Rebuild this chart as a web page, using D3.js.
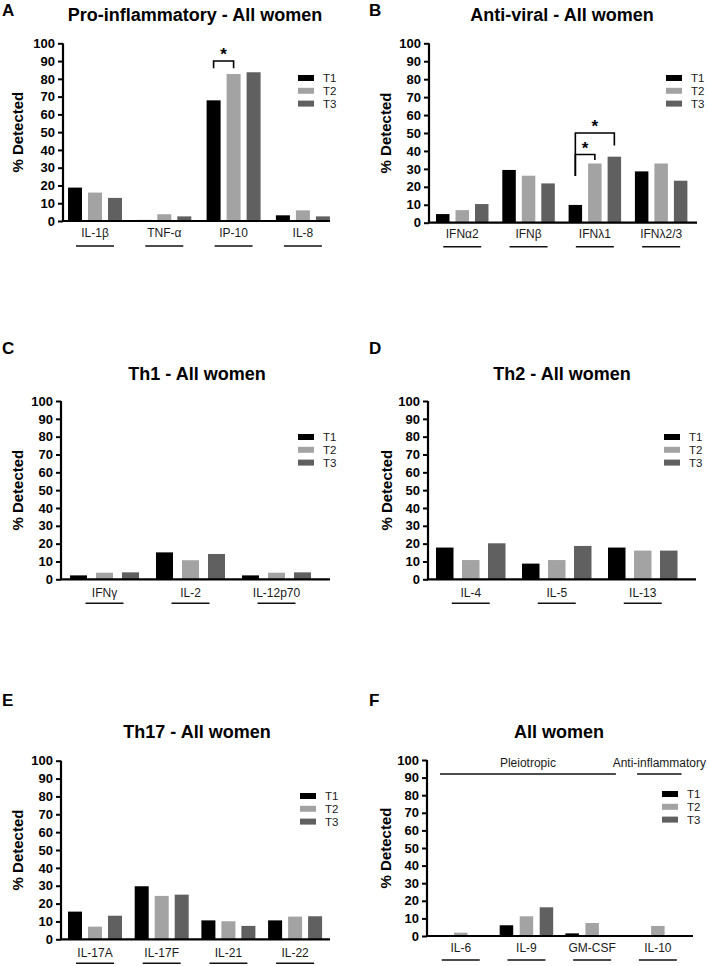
<!DOCTYPE html>
<html>
<head>
<meta charset="utf-8">
<script src="https://cdn.jsdelivr.net/npm/d3@7"></script>
<style>
  html, body { margin: 0; padding: 0; background: #fff; }
  svg text { font-family: "Liberation Sans", Arial, Helvetica, sans-serif; }
</style>
</head>
<body>
<svg id="chart" width="708" height="966"></svg>
<script>
// ---------------- DATA ----------------
const seriesNames = ["T1", "T2", "T3"];
const yTickValues = [0, 10, 20, 30, 40, 50, 60, 70, 80, 90, 100];
const yAxisTitle = "% Detected";

// A: Pro-inflammatory
const catsA = ["IL-1β", "TNF-α", "IP-10", "IL-8"];
const t1A = [18.8, 0.6, 67.9, 3.2];
const t2A = [16.0, 3.8, 82.7, 6.0];
const t3A = [13.0, 2.6, 83.7, 2.6];

// B: Anti-viral
const catsB = ["IFNα2", "IFNβ", "IFNλ1", "IFNλ2/3"];
const t1B = [4.8, 29.4, 9.9, 28.6];
const t2B = [7.0, 26.2, 33.0, 33.0];
const t3B = [10.4, 21.9, 36.8, 23.4];

// C: Th1
const catsC = ["IFNγ", "IL-2", "IL-12p70"];
const t1C = [2.2, 15.1, 2.2];
const t2C = [3.7, 10.7, 3.7];
const t3C = [3.9, 14.2, 3.9];

// D: Th2
const catsD = ["IL-4", "IL-5", "IL-13"];
const t1D = [17.8, 8.8, 17.8];
const t2D = [10.8, 10.8, 16.1];
const t3D = [20.2, 18.7, 16.1];

// E: Th17
const catsE = ["IL-17A", "IL-17F", "IL-21", "IL-22"];
const t1E = [15.5, 29.7, 10.6, 10.6];
const t2E = [7.1, 24.3, 10.1, 12.7];
const t3E = [13.2, 25.0, 7.5, 12.9];

// F: Pleiotropic / Anti-inflammatory
const catsF = ["IL-6", "IL-9", "GM-CSF", "IL-10"];
const t1F = [0, 6.1, 1.5, 0];
const t2F = [1.9, 11.2, 7.4, 5.7];
const t3F = [0, 16.3, 0, 0];

// significance brackets: category, from series, to series, bracket level, left leg end, right leg end (values in %)
const sigA = [{ cat: "IP-10", from: "T1", to: "T2", level: 90, leftEnd: 86, rightEnd: 86, label: "*" }];
const sigB = [
  { cat: "IFNλ1", from: "T1", to: "T2", level: 38, leftEnd: 26, rightEnd: 35, label: "*" },
  { cat: "IFNλ1", from: "T1", to: "T3", level: 50, leftEnd: 26, rightEnd: 43, label: "*" }
];

// group headers in panel F
const groupsF = [
  { label: "Pleiotropic", cats: ["IL-6", "IL-9", "GM-CSF"], level: 92 },
  { label: "Anti-inflammatory", cats: ["IL-10"], level: 92 }
];

// ---------------- STYLE / LAYOUT ----------------
const colors = { T1: "#000000", T2: "#a3a3a3", T3: "#606060" };

const panels = [
  { letter: "A", title: "Pro-inflammatory - All women", cats: catsA, vals: [t1A, t2A, t3A],
    letterX: 2, letterY: 16, titleX: 195, titleY: 21, axisX: 63, yTop: 43.3, yBot: 221, xEnd: 330,
    bandStart: 68, groupStep: 69.3, bw: 14, bstep: 20, legendX: 298, legendY: 78, ylabX: 18,
    labelDy: 16, underlineDy: 25, underline: true, sig: sigA },
  { letter: "B", title: "Anti-viral - All women", cats: catsB, vals: [t1B, t2B, t3B],
    letterX: 369, letterY: 16, titleX: 562, titleY: 21, axisX: 429, yTop: 43.3, yBot: 222.7, xEnd: 697,
    bandStart: 436, groupStep: 66.3, bw: 13.5, bstep: 19.5, legendX: 666, legendY: 78, ylabX: 386,
    labelDy: 15, underlineDy: 24, underline: true, sig: sigB },
  { letter: "C", title: "Th1 - All women", cats: catsC, vals: [t1C, t2C, t3C],
    letterX: 2, letterY: 354, titleX: 197, titleY: 380, axisX: 61, yTop: 401, yBot: 579.3, xEnd: 330,
    bandStart: 70, groupStep: 86, bw: 17, bstep: 26, legendX: 298, legendY: 437, ylabX: 18,
    labelDy: 18, underlineDy: 24, underline: true, sig: [] },
  { letter: "D", title: "Th2 - All women", cats: catsD, vals: [t1D, t2D, t3D],
    letterX: 369, letterY: 354, titleX: 562, titleY: 380, axisX: 428, yTop: 401, yBot: 579.3, xEnd: 696,
    bandStart: 436, groupStep: 86, bw: 17.5, bstep: 26, legendX: 664, legendY: 437, ylabX: 387,
    labelDy: 18, underlineDy: 24, underline: true, sig: [] },
  { letter: "E", title: "Th17 - All women", cats: catsE, vals: [t1E, t2E, t3E],
    letterX: 2, letterY: 706, titleX: 197, titleY: 738, axisX: 61, yTop: 760.7, yBot: 939.3, xEnd: 330,
    bandStart: 68, groupStep: 66.7, bw: 14, bstep: 20, legendX: 300, legendY: 796, ylabX: 18,
    labelDy: 18, underlineDy: 24, underline: true, sig: [] },
  { letter: "F", title: "All women", cats: catsF, vals: [t1F, t2F, t3F],
    letterX: 369, letterY: 706, titleX: 559, titleY: 738, axisX: 427, yTop: 760, yBot: 936, xEnd: 693,
    bandStart: 434, groupStep: 65.7, bw: 13.5, bstep: 20, legendX: 662, legendY: 794, ylabX: 386,
    labelDy: 16, underlineDy: 24, underline: true, sig: [], groups: groupsF }
];

const svg = d3.select("#chart");

panels.forEach(p => {
  const g = svg.append("g");
  const n = p.cats.length;
  const G = p.bw + 2 * p.bstep;
  const bandEnd = p.bandStart + (n - 1) * p.groupStep + G;

  const x0 = d3.scaleBand().domain(p.cats).range([p.bandStart, bandEnd])
    .paddingInner(1 - G / p.groupStep).paddingOuter(0);
  const x1 = d3.scaleBand().domain(seriesNames).range([0, G])
    .paddingInner(1 - p.bw / p.bstep).paddingOuter(0);
  const y = d3.scaleLinear().domain([0, 100]).range([p.yBot, p.yTop]);

  // panel letter
  g.append("text").attr("x", p.letterX).attr("y", p.letterY)
    .attr("font-size", 17).attr("font-weight", "bold").attr("fill", "#000").text(p.letter);
  // title
  g.append("text").attr("x", p.titleX).attr("y", p.titleY).attr("text-anchor", "middle")
    .attr("font-size", 18).attr("font-weight", "bold").attr("fill", "#000").text(p.title);

  // bars
  const rows = p.cats.map((c, i) => ({ cat: c, values: seriesNames.map((s, k) => ({ s, v: p.vals[k][i] })) }));
  const grp = g.selectAll("g.grp").data(rows).join("g").attr("class", "grp")
    .attr("transform", d => `translate(${x0(d.cat)},0)`);
  grp.selectAll("rect").data(d => d.values).join("rect")
    .attr("x", d => x1(d.s)).attr("width", x1.bandwidth())
    .attr("y", d => y(d.v)).attr("height", d => Math.max(0, p.yBot - y(d.v)))
    .attr("fill", d => colors[d.s]);

  // y axis
  const ax = g.append("g").attr("transform", `translate(${p.axisX},0)`)
    .call(d3.axisLeft(y).tickValues(yTickValues).tickSize(5).tickPadding(3));
  ax.select(".domain").attr("stroke", "#000").attr("stroke-width", 2.2)
    .attr("d", `M0,${p.yTop}V${p.yBot}`);
  ax.selectAll(".tick line").attr("stroke", "#000").attr("stroke-width", 2);
  ax.selectAll(".tick text").attr("font-size", 13).attr("font-weight", "bold").attr("fill", "#000")
    .attr("font-family", "Liberation Sans, Arial, sans-serif");

  // x axis line
  g.append("line").attr("x1", p.axisX - 1).attr("x2", p.xEnd).attr("y1", p.yBot).attr("y2", p.yBot)
    .attr("stroke", "#000").attr("stroke-width", 2.2);

  // category labels + underlines
  p.cats.forEach(c => {
    const cx = x0(c) + G / 2;
    g.append("text").attr("x", cx).attr("y", p.yBot + p.labelDy).attr("text-anchor", "middle")
      .attr("font-size", 12).attr("fill", "#1a1a1a").text(c);
    if (p.underline) {
      g.append("line").attr("x1", cx - 19).attr("x2", cx + 19)
        .attr("y1", p.yBot + p.underlineDy).attr("y2", p.yBot + p.underlineDy)
        .attr("stroke", "#111").attr("stroke-width", 1.5);
    }
  });

  // y-axis title
  const midY = (p.yTop + p.yBot) / 2;
  g.append("text").attr("transform", `translate(${p.ylabX + 5},${midY}) rotate(-90)`)
    .attr("text-anchor", "middle").attr("font-size", 15).attr("font-weight", "bold").attr("fill", "#000")
    .text(yAxisTitle);

  // legend
  seriesNames.forEach((s, k) => {
    const ly = p.legendY + k * 12.8;
    g.append("rect").attr("x", p.legendX).attr("y", ly - 3).attr("width", 16).attr("height", 6)
      .attr("fill", colors[s]);
    g.append("text").attr("x", p.legendX + 25).attr("y", ly + 4).attr("font-size", 11.5)
      .attr("fill", "#1a1a1a").text(s);
  });

  // significance brackets
  p.sig.forEach(b => {
    const xa = x0(b.cat) + x1(b.from) + x1.bandwidth() / 2;
    const xb = x0(b.cat) + x1(b.to) + x1.bandwidth() / 2;
    const yl = y(b.level);
    g.append("path")
      .attr("d", `M${xa},${y(b.leftEnd)}V${yl}H${xb}V${y(b.rightEnd)}`)
      .attr("fill", "none").attr("stroke", "#000").attr("stroke-width", 1.6);
    g.append("text").attr("x", (xa + xb) / 2).attr("y", yl - 1).attr("text-anchor", "middle")
      .attr("font-size", 17).attr("font-weight", "bold").attr("fill", "#000").text(b.label);
  });

  // group headers
  (p.groups || []).forEach(gr => {
    const xs = x0(gr.cats[0]) + 6;
    const xe = x0(gr.cats[gr.cats.length - 1]) + G - 3;
    const yl = y(gr.level);
    g.append("line").attr("x1", xs).attr("x2", xe).attr("y1", yl).attr("y2", yl)
      .attr("stroke", "#111").attr("stroke-width", 1.5);
    g.append("text").attr("x", (xs + xe) / 2).attr("y", yl - 7).attr("text-anchor", "middle")
      .attr("font-size", 12).attr("fill", "#1a1a1a").text(gr.label);
  });
});
</script>
</body>
</html>
